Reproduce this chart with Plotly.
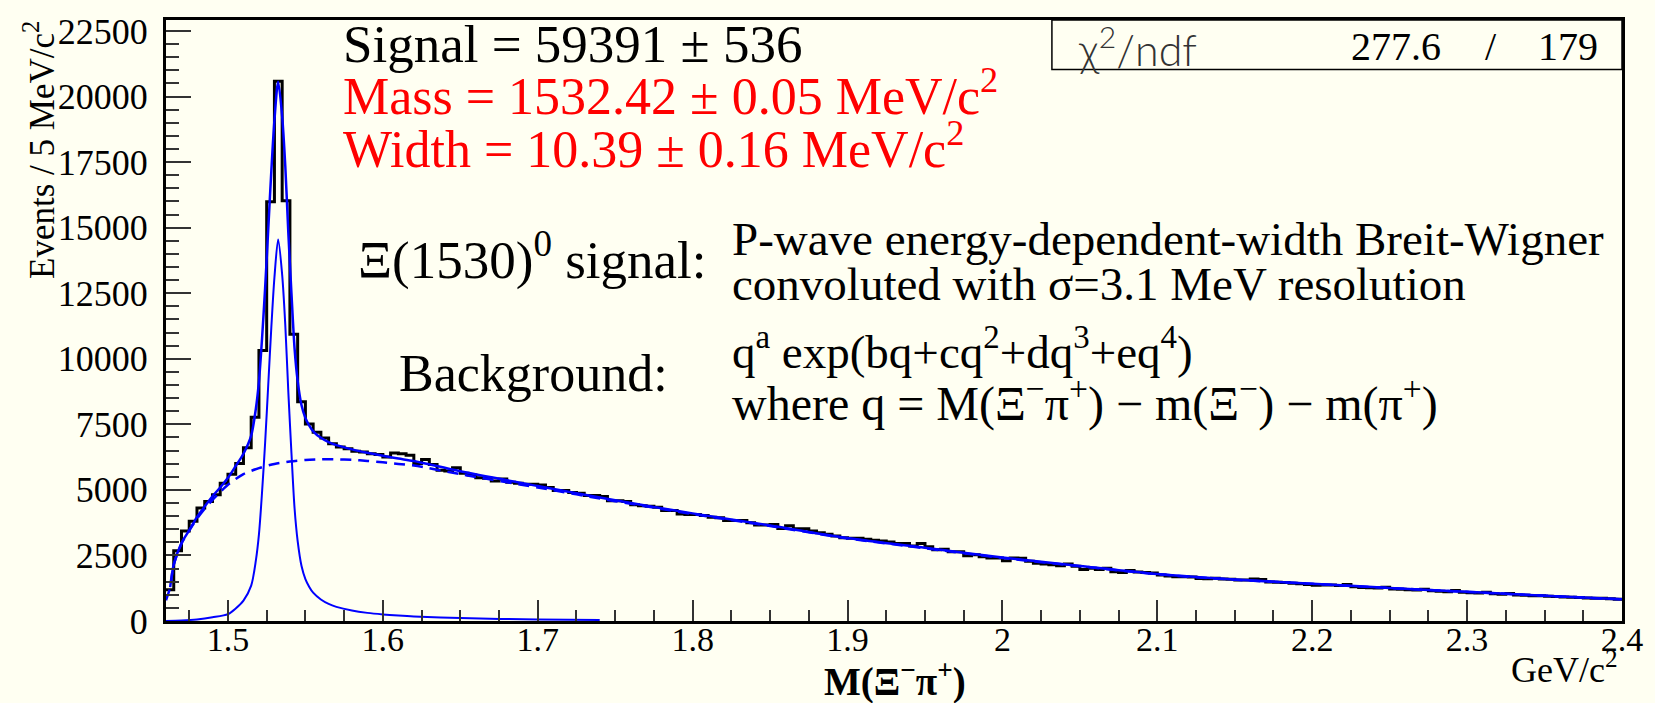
import numpy as np
import plotly.graph_objects as go

# ---------------- data ----------------
bin_lo = 1.46      # GeV/c^2, lower edge of first bin
bin_w = 0.005      # 5 MeV bins

counts = [
    1195, 2677, 3430, 3808, 4310, 4562, 4815, 5253, 5592, 6006,
    6609, 7766, 10318, 15985, 20584, 16023, 10933, 8357, 7515, 7200,
    6975, 6760, 6635, 6572, 6472, 6446, 6383, 6346, 6258, 6409,
    6383, 6320, 6006, 6157, 5969, 5750, 5720, 5844, 5630, 5568,
    5467, 5440, 5342, 5417, 5290, 5253, 5215, 5215, 5190, 5090,
    4976, 4976, 4901, 4876, 4788, 4788, 4750, 4587, 4587, 4562,
    4436, 4398, 4373, 4340, 4210, 4210, 4084, 4059, 4059, 4021,
    3958, 3933, 3833, 3833, 3833, 3744, 3657, 3657, 3682, 3532,
    3630, 3519, 3519, 3430, 3368, 3305, 3242, 3178, 3154, 3154,
    3116, 3079, 3054, 3016, 2953, 2953, 2865, 2953, 2827, 2714,
    2739, 2639, 2639, 2488, 2526, 2450, 2400, 2400, 2300, 2400,
    2390, 2274, 2199, 2174, 2149, 2111, 2174, 2086, 1960, 2010,
    1960, 2010, 1880, 1850, 1930, 1870, 1850, 1830, 1750, 1715,
    1690, 1690, 1675, 1620, 1615, 1630, 1605, 1590, 1560, 1565,
    1600, 1580, 1490, 1475, 1470, 1440, 1420, 1395, 1360, 1375,
    1370, 1350, 1395, 1305, 1280, 1265, 1255, 1290, 1225, 1215,
    1195, 1180, 1215, 1150, 1135, 1120, 1160, 1095, 1080, 1070,
    1095, 1035, 1020, 1050, 990, 985, 965, 960, 940, 930,
    920, 905, 900, 880, 865, 870, 845, 830,
]

fit_x = [1.4627, 1.465, 1.47, 1.475, 1.48, 1.485, 1.49, 1.495, 1.50, 1.505,
         1.51, 1.515, 1.518, 1.52, 1.522, 1.524, 1.526, 1.528, 1.530, 1.5324,
         1.535, 1.537, 1.539, 1.541, 1.543, 1.545, 1.5475, 1.55, 1.5525, 1.555,
         1.56, 1.565, 1.57, 1.58, 1.59, 1.60, 1.61, 1.62, 1.65, 1.70,
         1.75, 1.80, 1.85, 1.90, 1.95, 2.00, 2.05, 2.10, 2.15, 2.20,
         2.25, 2.30, 2.35, 2.40]
fit_y = [1290, 2150, 2970, 3460, 3960, 4370, 4760, 5090, 5460, 5910,
         6380, 7070, 8090, 9130, 10765, 12700, 14930, 17160, 19090, 20565,
         19240, 17360, 14775, 12490, 10400, 9160, 8225, 7740, 7450, 7235,
         6985, 6818, 6705, 6545, 6415, 6300, 6195, 6100, 5710, 5150,
         4605, 4105, 3640, 3165, 2790, 2420, 2100, 1790, 1580, 1422,
         1262, 1112, 967, 827]

bkg_x = [1.46, 1.4627, 1.465, 1.47, 1.475, 1.48, 1.485, 1.49, 1.495, 1.50,
         1.51, 1.52, 1.53, 1.54, 1.55, 1.56, 1.57, 1.58, 1.59, 1.60,
         1.61, 1.62, 1.65, 1.70, 1.75, 1.80, 1.85, 1.90, 1.95, 2.00,
         2.05, 2.10, 2.15, 2.20, 2.25, 2.30, 2.35, 2.40]
bkg_y = [790, 1290, 2150, 2950, 3450, 3900, 4280, 4620, 4920, 5200,
         5600, 5830, 5990, 6085, 6140, 6165, 6165, 6145, 6105, 6050,
         5990, 5930, 5600, 5090, 4570, 4080, 3620, 3150, 2775, 2405,
         2090, 1782, 1574, 1417, 1258, 1109, 965, 825]

sig_x = [1.46, 1.47, 1.48, 1.49, 1.50, 1.505, 1.51, 1.515, 1.518, 1.52,
         1.522, 1.524, 1.526, 1.528, 1.530, 1.5324, 1.535, 1.537, 1.539, 1.541,
         1.543, 1.545, 1.5475, 1.55, 1.5525, 1.555, 1.56, 1.565, 1.57, 1.58,
         1.59, 1.60, 1.61, 1.62, 1.65, 1.70, 1.74]
sig_y = [0, 20, 60, 140, 260, 480, 780, 1350, 2300, 3300,
         4900, 6800, 9000, 11200, 13100, 14550, 13200, 11300, 8700, 6400,
         4300, 3050, 2100, 1600, 1300, 1080, 820, 650, 540, 400,
         310, 250, 205, 170, 110, 60, 40]

x_tick_vals = [1.5, 1.6, 1.7, 1.8, 1.9, 2.0, 2.1, 2.2, 2.3, 2.4]
x_tick_text = ["1.5", "1.6", "1.7", "1.8", "1.9", "2", "2.1", "2.2", "2.3", "2.4"]
y_tick_vals = [0, 2500, 5000, 7500, 10000, 12500, 15000, 17500, 20000, 22500]
y_tick_text = ["0", "2500", "5000", "7500", "10000", "12500", "15000", "17500", "20000", "22500"]

# ---------------- figure ----------------
W, H = 1655, 703
ML, MR, MT, MB = 166, 23, 13, 82
PW, PH = W - ML - MR, H - MT - MB
BG = "#FFFFF2"
SERIF = "Liberation Serif, Times New Roman, serif"


def px(X):
    return (X - ML) / PW


def py(Y):
    return (H - MB - Y) / PH


edges = bin_lo + bin_w * np.arange(len(counts) + 1)
hist_y = list(counts) + [counts[-1]]

fig = go.Figure()
fig.add_trace(go.Scatter(x=edges, y=hist_y, mode="lines",
                         line=dict(shape="hv", color="black", width=3),
                         hoverinfo="skip"))
fig.add_trace(go.Scatter(x=fit_x, y=fit_y, mode="lines",
                         line=dict(shape="spline", smoothing=0.8, color="#0000FF", width=2.5),
                         hoverinfo="skip"))
fig.add_trace(go.Scatter(x=bkg_x, y=bkg_y, mode="lines",
                         line=dict(shape="spline", smoothing=0.8, color="#0000FF", width=2.5,
                                   dash="11px,7px"),
                         hoverinfo="skip"))
fig.add_trace(go.Scatter(x=sig_x, y=sig_y, mode="lines",
                         line=dict(shape="spline", smoothing=0.8, color="#0000FF", width=2),
                         hoverinfo="skip"))

fig.update_layout(
    width=W, height=H,
    margin=dict(l=ML, r=MR, t=MT, b=MB, pad=0),
    paper_bgcolor=BG, plot_bgcolor=BG,
    showlegend=False,
    font=dict(family=SERIF, color="black"),
)
fig.update_xaxes(
    range=[1.46, 2.40], showgrid=False, zeroline=False,
    showline=True, linewidth=3, linecolor="black", mirror=True,
    tickmode="array", tickvals=x_tick_vals, ticktext=x_tick_text,
    ticks="inside", ticklen=21, tickwidth=1.5, tickcolor="#333",
    ticklabelstandoff=-14,
    tickfont=dict(family=SERIF, size=34, color="black"),
    minor=dict(tickmode="linear", tick0=1.5, dtick=0.025, ticks="inside",
               ticklen=11, tickwidth=1.5, tickcolor="#333", showgrid=False),
)
fig.update_yaxes(
    range=[0, 22920], showgrid=False, zeroline=False,
    showline=True, linewidth=3, linecolor="black", mirror=True,
    tickmode="array", tickvals=y_tick_vals, ticktext=y_tick_text,
    ticks="inside", ticklen=25, tickwidth=1.5, tickcolor="#333",
    ticklabelstandoff=8,
    tickfont=dict(family=SERIF, size=36, color="black"),
    minor=dict(tickmode="linear", tick0=0, dtick=500, ticks="inside",
               ticklen=13, tickwidth=1.5, tickcolor="#333", showgrid=False),
)

# chi2 box
fig.add_shape(type="rect", xref="paper", yref="paper",
              x0=px(1058), x1=1.0, y0=py(63), y1=1.0,
              line=dict(color="black", width=1.5), fillcolor=BG, layer="above")


def ann(text, X, Y, size, color="black", xanchor="left", yanchor="middle",
        family=SERIF, **kw):
    fig.add_annotation(text=text, x=px(X), y=py(Y), xref="paper", yref="paper",
                       xanchor=xanchor, yanchor=yanchor, showarrow=False,
                       font=dict(family=family, size=size, color=color), **kw)


ann("Signal = 59391 \u00b1 536", 342, 37, 53)
ann("Mass = 1532.42 \u00b1 0.05 MeV/c<sup>2</sup>", 342, 86, 52, color="#FF0000")
ann("Width = 10.39 \u00b1 0.16 MeV/c<sup>2</sup>", 342, 140, 52, color="#FF0000")

ann("\u039e(1530)<sup>0</sup> signal:", 357, 252, 53)
ann("P-wave energy-dependent-width Breit-Wigner", 734, 235, 47)
ann("convoluted with \u03c3=3.1 MeV resolution", 734, 280, 47)
ann("Background:", 399, 371, 52)
ann("q<sup>a</sup> exp(bq+cq<sup>2</sup>+dq<sup>3</sup>+eq<sup>4</sup>)", 734, 345, 47)
ann("where q = M(\u039e<sup>\u2212</sup>\u03c0<sup>+</sup>) \u2212 m(\u039e<sup>\u2212</sup>) \u2212 m(\u03c0<sup>+</sup>)",
    734, 398, 48)

# chi2 / ndf
fig.add_annotation(text="\u03c7<sup>2</sup>/ndf", x=px(1082), y=py(40), xref="paper", yref="paper",
                   xanchor="left", yanchor="middle", showarrow=False,
                   font=dict(family="Lato, DejaVu Sans, sans-serif", size=43, color="#333", weight=300))
ann("277.6", 1452, 40, 40, xanchor="right")
ann("/", 1500, 40, 40, xanchor="center")
ann("179", 1610, 40, 40, xanchor="right")

# axis titles
fig.add_annotation(text="Events / 5 MeV/c<sup>2</sup>", x=px(38), y=py(12), xref="paper", yref="paper",
                   xanchor="center", yanchor="top", showarrow=False, textangle=-90,
                   font=dict(family=SERIF, size=35, color="black"))
fig.add_annotation(text="<b>M(\u039e<sup>\u2212</sup>\u03c0<sup>+</sup>)</b>", x=px(900), y=py(680),
                   xref="paper", yref="paper", xanchor="center", yanchor="middle", showarrow=False,
                   font=dict(family=SERIF, size=39, color="black"))
ann("GeV/c<sup>2</sup>", 1630, 668, 36, xanchor="right")

fig.write_html("out.html", config={"displayModeBar": False},
               post_script="document.body.style.margin='0';document.body.style.overflow='hidden';")
